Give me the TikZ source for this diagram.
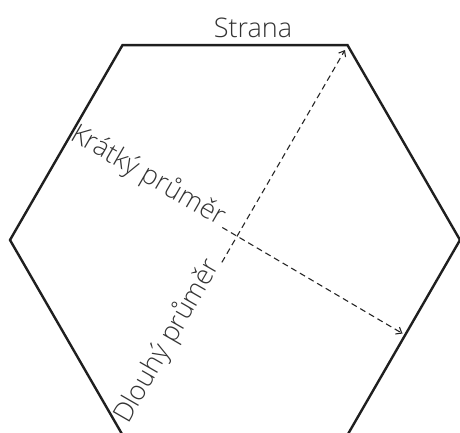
\documentclass[tikz,border=0pt]{standalone}
\usepackage{fontspec}
\setmainfont{Open Sans}[UprightFont={* Light}]
\usetikzlibrary{arrows.meta}
\definecolor{txt}{HTML}{333333}
\tikzset{
  hexline/.style={line width=2.4pt, draw=black!88, line join=miter},
  diam/.style={dashed, dash pattern=on 6pt off 4pt, line width=1.1pt, draw=black!85, -{Straight Barb[length=5pt,width=8pt]}},
  lbl/.style={font=\fontsize{27}{32}\selectfont, text=txt, inner sep=1pt}
}
\begin{document}
\begin{tikzpicture}[x=1pt,y=-1pt]
\useasboundingbox (0,0) rectangle (460,432);
% hexagon vertices
\coordinate (v0) at (460,240);
\coordinate (v1) at (347.5,45.1);
\coordinate (v2) at (122.5,45.1);
\coordinate (v3) at (10,240);
\coordinate (v4) at (122.5,434.9);
\coordinate (v5) at (347.5,434.9);
\draw[hexline] (v0) -- (v1) -- (v2) -- (v3) -- (v4) -- (v5) -- cycle;
% side label
\node[lbl, anchor=base] (side) at (253,37) {Strana};
% short diameter
\node[lbl, rotate=-30, anchor=base west, inner sep=0pt] (kt) at (69,139) {Krátký průměr};
\coordinate (kend) at (402.5,333.5);
\draw[diam] (kt.base east) ++(3,1.7) coordinate (kstart) (kstart) -- (kend);
% long diameter
\node[lbl, rotate=60, anchor=base west, inner sep=0pt] (dl) at (128,425) {Dlouhý průměr};
\coordinate (dend) at (345,50);
\draw[diam] (dl.base east) ++(1.7,-3) coordinate (dstart) (dstart) -- (dend);
\end{tikzpicture}
\end{document}
